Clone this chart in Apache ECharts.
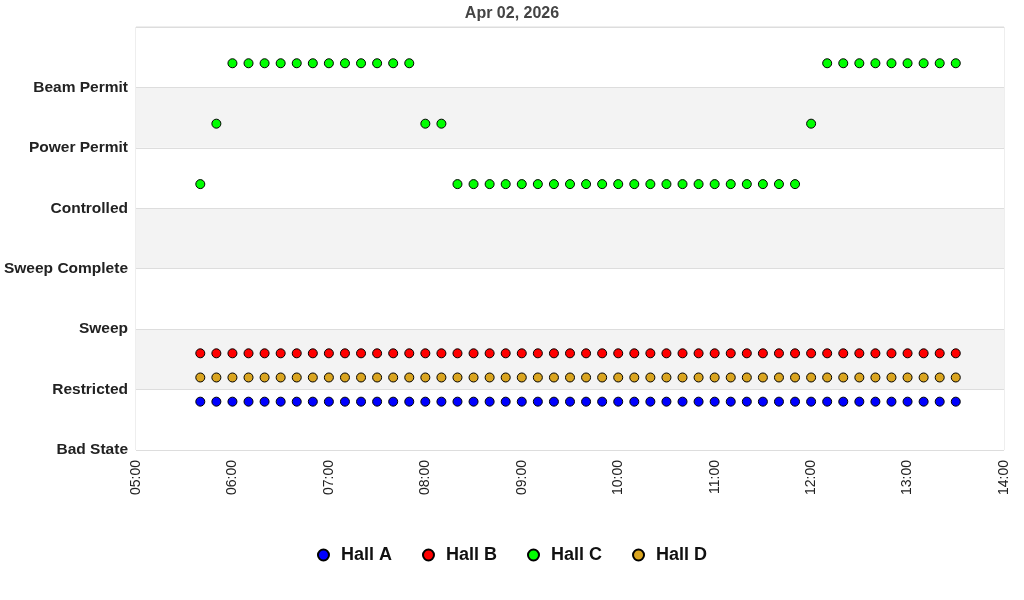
<!DOCTYPE html>
<html><head><meta charset="utf-8">
<script src="https://cdn.jsdelivr.net/npm/echarts@6/dist/echarts.min.js"></script>
<style>html,body{margin:0;padding:0;background:#fff}#c{width:1024px;height:600px}</style>
</head><body><div id="c"></div>
<script>
const titleText = 'Apr 02, 2026';
const stateLabels = ['Bad State','Restricted','Sweep','Sweep Complete','Controlled','Power Permit','Beam Permit'];
const seriesNames = ['Hall A','Hall B','Hall C','Hall D'];
const seriesColors = ['#0000ff','#ff0000','#00ff00','#daa520'];
const times = ['05:40','05:50','06:00','06:10','06:20','06:30','06:40','06:50','07:00','07:10','07:20','07:30','07:40','07:50',
 '08:00','08:10','08:20','08:30','08:40','08:50','09:00','09:10','09:20','09:30','09:40','09:50','10:00','10:10','10:20','10:30','10:40','10:50',
 '11:00','11:10','11:20','11:30','11:40','11:50','12:00','12:10','12:20','12:30','12:40','12:50','13:00','13:10','13:20','13:30'];
const hallA = times.map(()=>0.8);
const hallB = times.map(()=>1.6);
const hallD = times.map(()=>1.2);
const hallC = [4.4,5.4,
 6.4,6.4,6.4,6.4,6.4,6.4,6.4,6.4,6.4,6.4,6.4,6.4,
 5.4,5.4,
 4.4,4.4,4.4,4.4,4.4,4.4,4.4,4.4,4.4,4.4,4.4,4.4,4.4,4.4,4.4,4.4,4.4,4.4,4.4,4.4,4.4,4.4,
 5.4,
 6.4,6.4,6.4,6.4,6.4,6.4,6.4,6.4,6.4];
const day = '2026-04-02';
const xMin = day + ' 05:00', xMax = day + ' 14:00';
const values = [hallA, hallB, hallC, hallD];

const chart = echarts.init(document.getElementById('c'));
chart.setOption({
  animation:false,
  backgroundColor:'#fff',
  title:{text:titleText,left:'center',top:1,textStyle:{fontSize:16,fontWeight:'bold',color:'#444',fontFamily:'Liberation Sans, Arial'}},
  legend:{bottom:31,left:'center',itemGap:30,itemWidth:11,itemHeight:11,
    textStyle:{fontSize:18,fontWeight:'bold',color:'#111',fontFamily:'Liberation Sans, Arial',padding:[0,0,0,7]},
    data:seriesNames.map(n=>({name:n,icon:'circle'}))},
  grid:{left:136,right:20,top:27,bottom:150,show:true,borderColor:'#ddd',borderWidth:1},
  xAxis:{type:'time',min:xMin,max:xMax,minInterval:3600000,maxInterval:3600000,
    axisLine:{show:false},axisTick:{show:false},splitLine:{show:false},
    axisLabel:{rotate:90,fontSize:14,color:'#222',fontFamily:'Liberation Sans, Arial',margin:10,
      formatter:v=>{const d=new Date(v);return String(d.getHours()).padStart(2,'0')+':'+String(d.getMinutes()).padStart(2,'0');},
      showMinLabel:true,showMaxLabel:true,hideOverlap:false}},
  yAxis:{type:'value',min:0,max:7,interval:1,
    axisLine:{show:false},axisTick:{show:false},
    splitLine:{show:true,lineStyle:{color:'#ddd',width:1}},
    splitArea:{show:true,areaStyle:{color:['#ffffff','#f3f3f3']}},
    axisLabel:{fontSize:15.5,fontWeight:'bold',color:'#222',fontFamily:'Liberation Sans, Arial',margin:8,padding:[3,0,0,0],
      formatter:v=>stateLabels[v]||''}},
  series:seriesNames.map((n,i)=>({
    name:n,type:'scatter',symbol:'circle',symbolSize:9,
    itemStyle:{color:seriesColors[i],borderColor:'#000',borderWidth:1,opacity:1},
    data:times.map((t,k)=>[day+' '+t,values[i][k]])
  }))
});
</script></body></html>
